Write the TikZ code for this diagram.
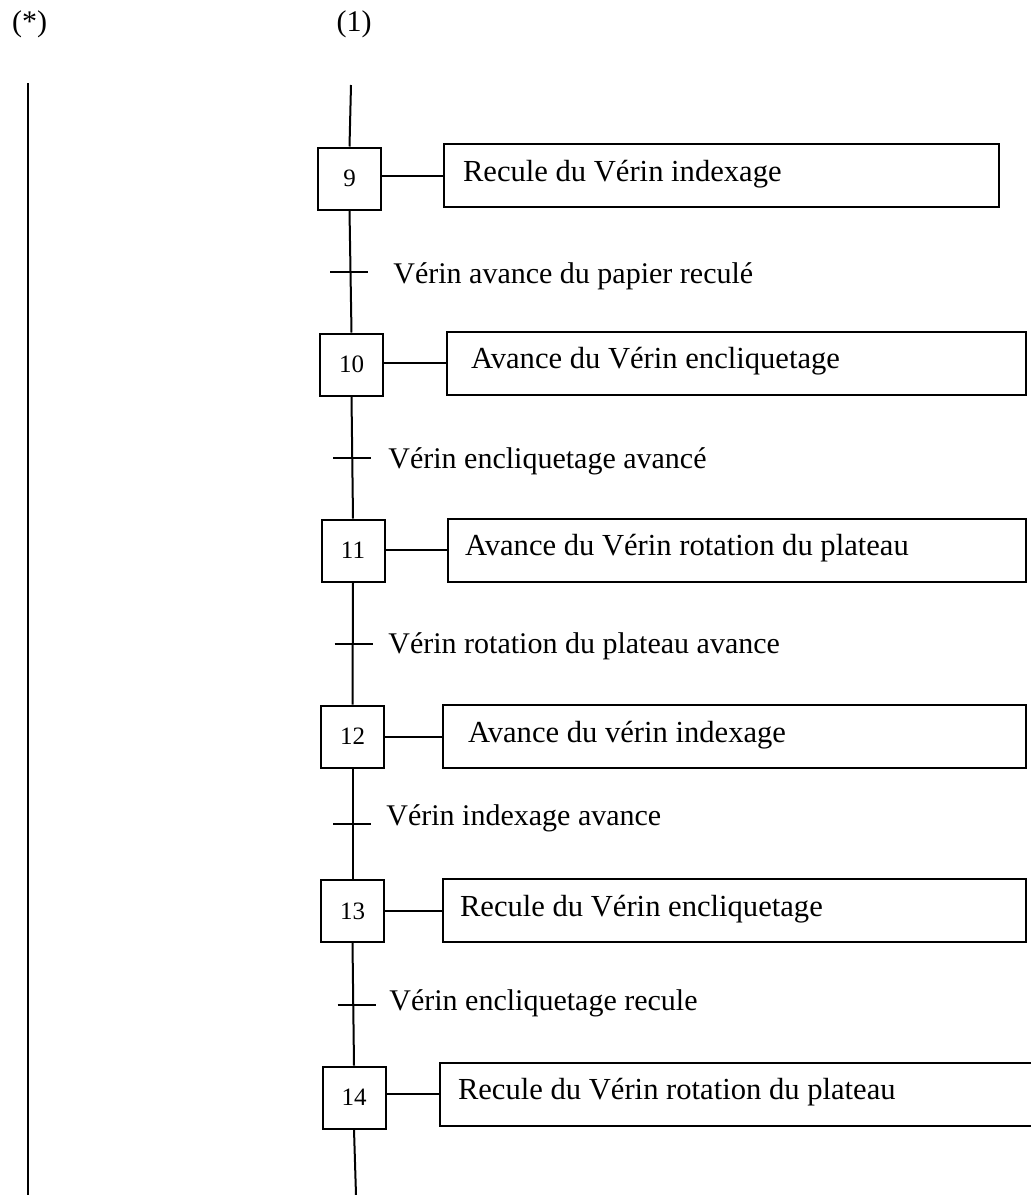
\documentclass[tikz,border=0pt]{standalone}
\usepackage{fontspec}
\setmainfont{Liberation Serif}
\tikzset{
    etape/.style={draw,line width=1pt,minimum width=31.5pt,minimum height=31pt,inner sep=0pt,font=\fontsize{12.5pt}{14pt}\selectfont},
    action/.style={draw,line width=1pt,anchor=west,align=flush left,minimum height=31.5pt,text height=10pt,text depth=4.5pt,font=\fontsize{15.3pt}{18pt}\selectfont},
    cond/.style={anchor=base west,inner sep=0pt,font=\fontsize{15pt}{18pt}\selectfont},
    lien/.style={line width=1pt}
}
\begin{document}
\begin{tikzpicture}[x=0.5pt,y=-0.5pt]
    \useasboundingbox (0,0) rectangle (1030,1195);
    % headers
    \node[inner sep=0pt,font=\fontsize{15pt}{18pt}\selectfont] at (29.5,24) (star) {(*)};
    \node[inner sep=0pt,font=\fontsize{15pt}{18pt}\selectfont] at (354,24) (one) {(1)};
    \coordinate (lt) at (28,83);
    \coordinate (lb) at (28,1195);
    \draw[line width=1.1pt] (lt)--(lb);
    % steps
    \node[etape] at (349.5,178.5) (s9) {9};
    \node[etape] at (351.5,364.5) (s10) {10};
    \node[etape] at (353,550.5) (s11) {11};
    \node[etape] at (352.5,736.5) (s12) {12};
    \node[etape] at (352.5,911) (s13) {13};
    \node[etape] at (354,1097.5) (s14) {14};
    % actions
    \node[action,text width=258.5pt,inner xsep=9.5pt] at (443,175.5) (a9) {Recule du Vérin indexage};
    \node[action,text width=265.5pt,inner xsep=12pt] at (446,363) (a10) {Avance du Vérin encliquetage};
    \node[action,text width=272pt,inner xsep=8.5pt] at (447,550) (a11) {Avance du Vérin rotation du plateau};
    \node[action,text width=266.5pt,inner xsep=12.5pt] at (442,736.5) (a12) {Avance du vérin indexage};
    \node[action,text width=274.5pt,inner xsep=8.5pt] at (442,910.5) (a13) {Recule du Vérin encliquetage};
    \node[action,text width=292.5pt,inner xsep=9pt] at (439,1094) (a14) {Recule du Vérin rotation du plateau};
    \foreach \n in {9,...,14}
        \draw[lien] (a\n.west -| s\n.east)--(a\n.west);
    % links between steps
    \coordinate (in9) at (351,85);
    \coordinate (out14) at (356,1195);
    \draw[lien] (in9)--(s9.north);
    \draw[lien] (s9.south)--(s10.north);
    \draw[lien] (s10.south)--(s11.north);
    \draw[lien] (s11.south)--(s12.north);
    \draw[lien] (s12.south)--(s13.north);
    \draw[lien] (s13.south)--(s14.north);
    \draw[lien] (s14.south)--(out14);
    % transitions
    \coordinate (t1) at (349,272);
    \coordinate (t2) at (352,458);
    \coordinate (t3) at (353.5,644);
    \coordinate (t4) at (352,824);
    \coordinate (t5) at (356.5,1005);
    \foreach \t in {t1,t2,t3,t4,t5}
        \draw[lien] (\t) ++(-19,0)--++(38,0);
    \node[cond] at (393,283) (c1) {Vérin avance du papier reculé};
    \node[cond] at (388,468) (c2) {Vérin encliquetage avancé};
    \node[cond] at (388,653) (c3) {Vérin rotation du plateau avance};
    \node[cond] at (386,825) (c4) {Vérin indexage avance};
    \node[cond] at (389,1010) (c5) {Vérin encliquetage recule};
\end{tikzpicture}
\end{document}
